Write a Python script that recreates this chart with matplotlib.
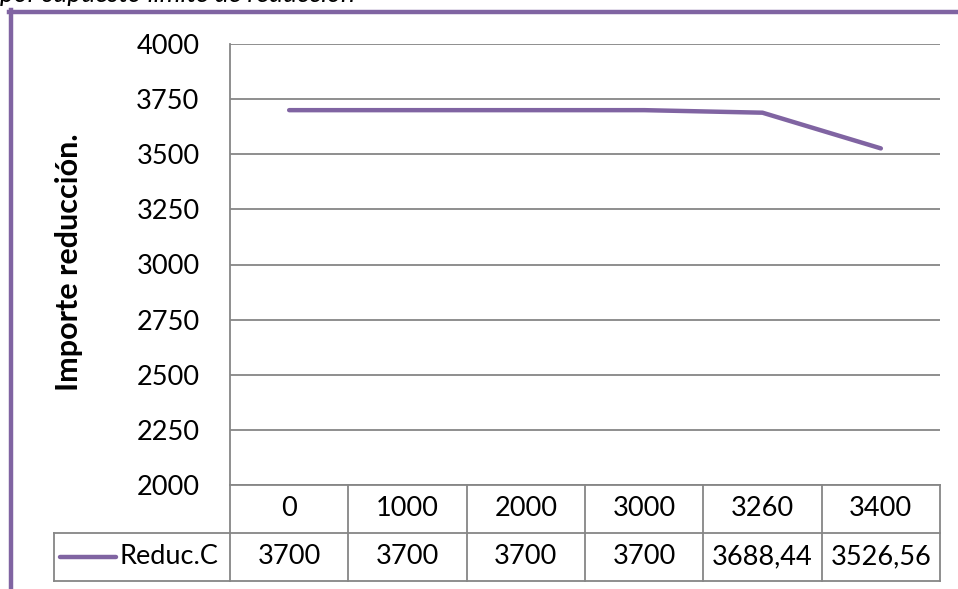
import matplotlib.pyplot as plt
from matplotlib.lines import Line2D

categories = ["0", "1000", "2000", "3000", "3260", "3400"]
values = [3700, 3700, 3700, 3700, 3688.44, 3526.56]
value_labels = ["3700", "3700", "3700", "3700", "3688,44", "3526,56"]
series_name = "Reduc.C"
y_ticks = [2000, 2250, 2500, 2750, 3000, 3250, 3500, 3750, 4000]

purple = "#8064A2"
grid_c = "#868686"
plt.rcParams['font.family'] = ['Lato', 'DejaVu Sans']

W, H = 958, 589
fig = plt.figure(figsize=(W / 100, H / 100), dpi=100)

# plot area in pixels
left, right, top, bottom = 230, 940, 44, 485
ax = fig.add_axes([left / W, 1 - bottom / H, (right - left) / W, (bottom - top) / H])

x = list(range(len(categories)))
ax.plot(x, values, color=purple, lw=3.2, solid_capstyle='round', zorder=3)
ax.set_xlim(-0.5, len(categories) - 0.5)
ax.set_ylim(2000, 4000)
ax.set_yticks(y_ticks)
ax.set_yticklabels([str(t) for t in y_ticks], fontsize=19.5)
ax.tick_params(axis='y', length=0, pad=22)
ax.set_xticks([])
for t in y_ticks:
    ax.axhline(t, color=grid_c, lw=1.3, zorder=1)
for s in ['top', 'right']:
    ax.spines[s].set_visible(False)
ax.spines['left'].set_color(grid_c)
ax.spines['left'].set_linewidth(1.3)
ax.spines['bottom'].set_color(grid_c)
ax.spines['bottom'].set_linewidth(1.3)

ax.set_ylabel("Importe reducción.", fontsize=22, fontweight='bold')
ax.yaxis.set_label_coords((83 - left) / (right - left), 0.505)

# data table below the axis (axes fraction y, data x)
ph = bottom - top
r1 = -48 / ph
r2 = -96 / ph
lx = (54 - left) / (right - left)
tr = ax.get_xaxis_transform()
kw = dict(color=grid_c, lw=1.3, clip_on=False)
ax.plot([-0.5, 5.5], [r1, r1], transform=tr, **kw)
ax.plot([-0.5, 5.5], [r2, r2], transform=tr, **kw)
for i in range(len(categories) + 1):
    ax.plot([i - 0.5, i - 0.5], [0, r2], transform=tr, **kw)
ax.plot([lx, 0], [r1, r1], transform=ax.transAxes, **kw)
ax.plot([lx, 0], [r2, r2], transform=ax.transAxes, **kw)
ax.plot([lx, lx], [r1, r2], transform=ax.transAxes, **kw)

for i, (c, v) in enumerate(zip(categories, value_labels)):
    ax.text(i, r1 / 2, c, transform=tr, ha='center', va='center', fontsize=19.5)
    ax.text(i, (r1 + r2) / 2, v, transform=tr, ha='center', va='center', fontsize=19.5)

ym = (r1 + r2) / 2
ax.plot([(60 - left) / (right - left), (116 - left) / (right - left)], [ym, ym],
        transform=ax.transAxes, color=purple, lw=3.2, solid_capstyle='round', clip_on=False)
ax.text((119 - left) / (right - left), ym, series_name, transform=ax.transAxes,
        ha='left', va='center', fontsize=19.5)

# purple chart frame
fig.add_artist(Line2D([11 / W, 11 / W], [0, 1 - 10 / H], color=purple, lw=3.2,
                      transform=fig.transFigure))
fig.add_artist(Line2D([9 / W, 1], [1 - 12 / H, 1 - 12 / H], color=purple, lw=3.2,
                      transform=fig.transFigure))

# title of the chart, cut at the top edge as in the source screenshot
fig.text(0 / W, 1 - 2 / H, "por supuesto límite de reducción", fontsize=19,
         style='italic', ha='left', va='baseline')

fig.savefig("out.png", dpi=100)
